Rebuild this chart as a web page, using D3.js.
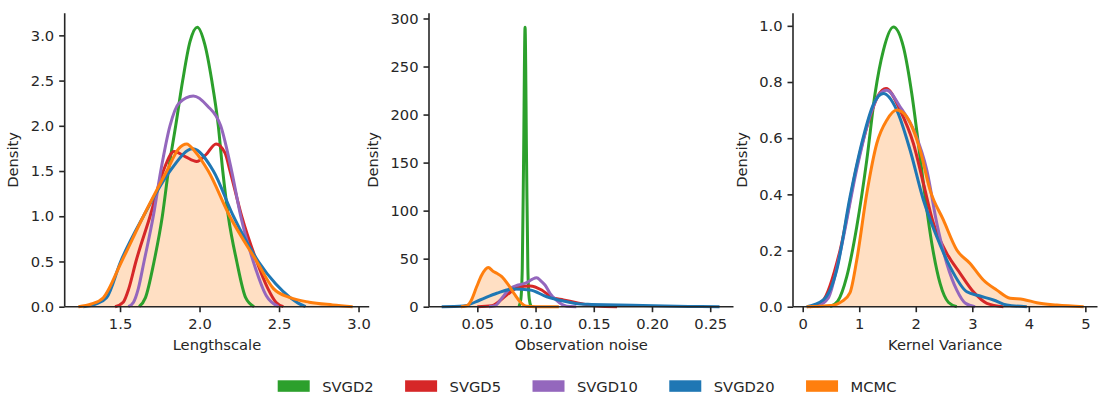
<!DOCTYPE html>
<html>
<head>
<meta charset="utf-8">
<script src="https://cdn.jsdelivr.net/npm/d3@7"></script>
<style>
  html, body { margin: 0; padding: 0; background: #fff; }
  svg text { font-family: "DejaVu Sans", sans-serif; fill: #262626; }
</style>
</head>
<body>
<svg id="chart" width="1098" height="394"></svg>
<script>
// series names and colours (legend order)
const seriesNames = ['SVGD2', 'SVGD5', 'SVGD10', 'SVGD20', 'MCMC'];
const seriesColors = ['#2ca02c', '#d62728', '#9467bd', '#1f77b4', '#ff7f0e'];

// panel 1: Lengthscale  [x, density]
const lengthSVGD2 = [[1.62,0],[1.66,0.1],[1.714,0.5],[1.766,1.0],[1.804,1.5],[1.85,2.0],[1.894,2.5],[1.94,2.93],[1.986,3.09],[2.033,2.9],[2.077,2.5],[2.118,2.0],[2.146,1.5],[2.181,1.0],[2.234,0.5],[2.29,0.1],[2.343,0]];
const lengthSVGD5 = [[1.469,0],[1.52,0.05],[1.555,0.2],[1.60,0.5],[1.689,1.0],[1.772,1.5],[1.84,1.716],[1.91,1.66],[1.982,1.606],[2.04,1.68],[2.104,1.80],[2.16,1.7],[2.192,1.5],[2.265,1.0],[2.36,0.5],[2.43,0.2],[2.48,0.05],[2.527,0]];
const lengthSVGD10 = [[1.552,0],[1.585,0.05],[1.615,0.2],[1.651,0.5],[1.709,1.0],[1.756,1.5],[1.814,2.0],[1.87,2.25],[1.961,2.33],[2.05,2.22],[2.133,2.0],[2.202,1.5],[2.259,1.0],[2.338,0.5],[2.42,0.12],[2.496,0]];
const lengthSVGD20 = [[1.269,0],[1.35,0.03],[1.416,0.1],[1.504,0.5],[1.647,1.0],[1.814,1.5],[1.957,1.746],[2.087,1.5],[2.213,1.0],[2.37,0.5],[2.48,0.25],[2.57,0.1],[2.62,0.04],[2.667,0]];
const lengthMCMC = [[1.238,0],[1.32,0.03],[1.395,0.1],[1.51,0.5],[1.647,1.0],[1.794,1.5],[1.87,1.75],[1.919,1.80],[1.97,1.72],[2.055,1.5],[2.19,1.0],[2.36,0.5],[2.465,0.2],[2.57,0.1],[2.69,0.05],[2.837,0.02],[2.963,0]];

// panel 2: Observation noise
const noiseSVGD2 = [[0.0858,0],[0.0874,8],[0.0886,40],[0.0897,150],[0.091,291],[0.0923,150],[0.0934,40],[0.0946,8],[0.0962,0]];
const noiseSVGD5 = [[0.05,0],[0.0624,1],[0.0752,12.2],[0.0852,20.2],[0.0953,21.6],[0.1053,17.4],[0.1139,9.8],[0.1239,7],[0.1353,4.2],[0.1525,0.7],[0.17,0]];
const noiseSVGD10 = [[0.06,0],[0.0652,1],[0.071,8.8],[0.0781,19],[0.0852,22.6],[0.0924,25],[0.097,28.5],[0.101,30.2],[0.1045,27],[0.1081,22.6],[0.1124,14],[0.1176,7],[0.1268,0.5],[0.135,0]];
const noiseSVGD20 = [[0.0194,0],[0.038,0.7],[0.0523,7],[0.0667,14],[0.081,18.4],[0.0953,17.4],[0.1096,10.4],[0.1239,5.9],[0.1382,2.8],[0.148,2.4],[0.183,1.4],[0.211,0.6],[0.235,0.15],[0.258,0]];
const noiseMCMC = [[0.036,0],[0.041,1],[0.0445,6],[0.0495,21],[0.0538,33],[0.0594,40.7],[0.0635,37],[0.0667,34.8],[0.071,31.3],[0.0767,22.6],[0.0824,12.2],[0.0867,5.2],[0.0924,0.5],[0.10,0],[0.12,0]];

// panel 3: Kernel Variance
const varSVGD2 = [[0.483,0],[0.62,0.02],[0.779,0.107],[0.956,0.285],[1.133,0.522],[1.28,0.759],[1.427,0.913],[1.604,0.996],[1.781,0.925],[1.929,0.759],[2.046,0.581],[2.165,0.391],[2.283,0.226],[2.43,0.083],[2.58,0.015],[2.726,0]];
const varSVGD5 = [[0.129,0],[0.35,0.02],[0.66,0.2],[0.956,0.5],[1.19,0.676],[1.33,0.75],[1.474,0.777],[1.722,0.7],[1.958,0.581],[2.135,0.439],[2.312,0.297],[2.549,0.19],[2.784,0.119],[3.02,0.053],[3.257,0.012],[3.55,0]];
const varSVGD10 = [[0.248,0],[0.45,0.03],[0.66,0.19],[0.956,0.49],[1.19,0.68],[1.35,0.755],[1.487,0.771],[1.722,0.712],[1.988,0.617],[2.195,0.486],[2.372,0.297],[2.549,0.154],[2.726,0.059],[2.88,0.012],[3.05,0]];
const varSVGD20 = [[0.071,0],[0.365,0.024],[0.602,0.131],[0.837,0.391],[1.073,0.605],[1.25,0.72],[1.427,0.759],[1.664,0.7],[1.899,0.558],[2.135,0.38],[2.372,0.249],[2.607,0.142],[2.903,0.053],[3.138,0.038],[3.374,0.024],[3.61,0.006],[3.965,0]];
const varMCMC = [[0.07,0],[0.5,0.004],[0.7,0.02],[0.837,0.05],[0.956,0.166],[1.133,0.403],[1.31,0.581],[1.487,0.664],[1.664,0.7],[1.841,0.676],[2.076,0.558],[2.253,0.415],[2.488,0.309],[2.726,0.202],[2.961,0.154],[3.196,0.095],[3.434,0.059],[3.669,0.03],[3.905,0.026],[4.142,0.014],[4.496,0.006],[4.97,0]];

// tick labels
const lengthXTicks = [1.5, 2.0, 2.5, 3.0];
const lengthYTicks = [0, 0.5, 1.0, 1.5, 2.0, 2.5, 3.0];
const noiseXTicks = [0.05, 0.10, 0.15, 0.20, 0.25];
const noiseYTicks = [0, 50, 100, 150, 200, 250, 300];
const varXTicks = [0, 1, 2, 3, 4, 5];
const varYTicks = [0, 0.2, 0.4, 0.6, 0.8, 1.0];

const panels = [
  { title: 'Lengthscale', left: 64.7, series: [lengthSVGD2, lengthSVGD5, lengthSVGD10, lengthSVGD20, lengthMCMC],
    xDomain: [1.152, 3.067], yMax: 3.245, xTicks: lengthXTicks, yTicks: lengthYTicks, xFmt: d3.format('.1f'), yFmt: d3.format('.1f') },
  { title: 'Observation noise', left: 429, series: [noiseSVGD2, noiseSVGD5, noiseSVGD10, noiseSVGD20, noiseMCMC],
    xDomain: [0.0085, 0.27], yMax: 305.5, xTicks: noiseXTicks, yTicks: noiseYTicks, xFmt: d3.format('.2f'), yFmt: d3.format('d') },
  { title: 'Kernel Variance', left: 793, series: [varSVGD2, varSVGD5, varSVGD10, varSVGD20, varMCMC],
    xDomain: [-0.172, 5.215], yMax: 1.045, xTicks: varXTicks, yTicks: varYTicks, xFmt: d3.format('d'), yFmt: d3.format('.1f') }
];

const svg = d3.select('#chart');
const panelW = 304.5;
const plotTop = 13.2, plotBottom = 306.7;
const tickLen = 5.5, tickPad = 5;
const axisColor = '#262626';
const fontSize = 14.7;

panels.forEach(p => {
  const x = d3.scaleLinear().domain(p.xDomain).range([p.left, p.left + panelW]);
  const y = d3.scaleLinear().domain([0, p.yMax]).range([plotBottom, plotTop]);
  const g = svg.append('g');

  const line = d3.line().x(d => x(d[0])).y(d => y(d[1])).curve(d3.curveMonotoneX);
  const area = d3.area().x(d => x(d[0])).y0(y(0)).y1(d => y(d[1])).curve(d3.curveMonotoneX);

  // shaded MCMC density sits behind all lines
  const mcmcIdx = seriesNames.indexOf('MCMC');
  g.append('path').attr('d', area(p.series[mcmcIdx]))
    .attr('fill', seriesColors[mcmcIdx]).attr('fill-opacity', 0.25)
    .attr('stroke', seriesColors[mcmcIdx]).attr('stroke-opacity', 0.25).attr('stroke-width', 1.2);

  p.series.forEach((s, i) => {
    g.append('path').attr('d', line(s))
      .attr('fill', 'none').attr('stroke', seriesColors[i])
      .attr('stroke-width', 3).attr('stroke-linejoin', 'round');
  });

  // axes (despined: left + bottom only)
  const xAxis = g.append('g').attr('transform', `translate(0,${plotBottom})`)
    .call(d3.axisBottom(x).tickValues(p.xTicks).tickFormat(p.xFmt).tickSizeOuter(0).tickSize(tickLen).tickPadding(tickPad));
  const yAxis = g.append('g').attr('transform', `translate(${p.left},0)`)
    .call(d3.axisLeft(y).tickValues(p.yTicks).tickFormat(p.yFmt).tickSizeOuter(0).tickSize(tickLen).tickPadding(tickPad));
  [xAxis, yAxis].forEach(a => {
    a.select('.domain').attr('stroke', axisColor).attr('stroke-width', 1.6);
    a.selectAll('.tick line').attr('stroke', axisColor).attr('stroke-width', 1.6);
    a.selectAll('.tick text').attr('font-size', fontSize).attr('fill', axisColor)
      .attr('font-family', '"DejaVu Sans", sans-serif');
  });
  xAxis.select('.domain').attr('d', `M${p.left},0H${p.left + panelW}`);
  yAxis.select('.domain').attr('d', `M0,${plotTop}V${plotBottom}`);
  xAxis.selectAll('.tick text').attr('dy', null).attr('y', tickLen + tickPad + 12);

  // axis titles
  g.append('text').attr('x', p.left + panelW / 2).attr('y', 350)
    .attr('text-anchor', 'middle').attr('font-size', fontSize).text(p.title);

  let maxW = 0;
  yAxis.selectAll('.tick text').each(function () { maxW = Math.max(maxW, this.getComputedTextLength()); });
  const ly = p.left - tickLen - tickPad - maxW - 12.5;
  g.append('text').attr('transform', `translate(${ly},${(plotTop + plotBottom) / 2}) rotate(-90)`)
    .attr('text-anchor', 'middle').attr('font-size', fontSize).text('Density');
});

// legend
const legend = svg.append('g');
let lx = 277.7;
seriesNames.forEach((name, i) => {
  legend.append('rect').attr('x', lx).attr('y', 380.3).attr('width', 32).attr('height', 11.5)
    .attr('fill', seriesColors[i]);
  const t = legend.append('text').attr('x', lx + 32 + 12.5).attr('y', 391.5)
    .attr('font-size', fontSize).text(name);
  lx += 32 + 12.5 + t.node().getComputedTextLength() + 31.5;
});
</script>
</body>
</html>
